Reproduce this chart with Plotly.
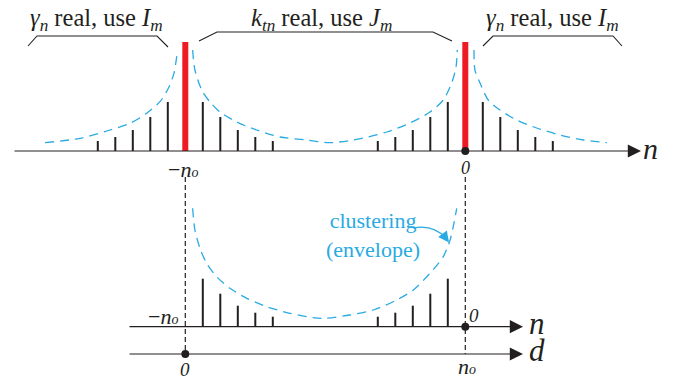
import plotly.graph_objects as go

# ---------------- data (n units; heights in px-like units) ----------------
N0 = 16
stem_n_top = [-21, -20, -19, -18, -17, -15, -14, -13, -12, -11,
              -5, -4, -3, -2, -1, 1, 2, 3, 4, 5]
stem_h_top = [10, 14, 21, 34, 49, 49, 34, 21, 14, 10,
              10, 14, 21, 34, 49, 49, 34, 21, 14, 10]
peak_n = [-16, 0]
peak_h = [109, 109]

stem_n_bot = [-15, -14, -13, -12, -11, -5, -4, -3, -2, -1]
stem_h_bot = [48, 33, 21, 14, 10, 10, 14, 21, 33, 48]

env_a_n = [-24.02, -22.02, -20.30, -19.16, -18.21, -17.45, -16.97, -16.65, -16.49, -16.43]
env_a_h = [8.3, 12.7, 21, 27.7, 37.7, 49.3, 62.7, 77.7, 94.3, 101]
env_b_n = [-15.58, -15.45, -15.06, -14.59, -14.02, -13.06, -11.92, -10.59, -9.06, -7.8,
           -6.39, -4.49, -3.16, -2.02, -1.26, -0.78, -0.53, -0.46]
env_b_h = [101, 81, 61, 49, 39, 29, 21, 14, 11, 8.3,
           11, 19, 28, 39, 51, 68, 84, 101]
env_c_n = [0.50, 0.55, 0.84, 1.31, 1.98, 2.94, 4.08, 5.41, 6.75, 8.09]
env_c_h = [101, 81, 68, 51, 41, 31, 23, 16, 11, 8.3]

env_bot_n = [-15.58, -15.45, -15.16, -14.78, -14.21, -13.45, -12.49, -11.35, -10.02, -8.69,
             -8.0, -6.59, -5.26, -3.92, -2.97, -2.02, -1.26, -0.87, -0.69, -0.49]
env_bot_h = [118.4, 96.7, 78.4, 63.4, 50, 38.4, 28.4, 20, 13.4, 9,
             8.4, 11.7, 16.7, 26.7, 36.7, 53.4, 70, 86.7, 100, 118.4]

top_labels = ["<i>γ<sub>n</sub></i> real, use <i>I<sub>m</sub></i>",
              "<i>k<sub>tn</sub></i> real, use <i>J<sub>m</sub></i>",
              "<i>γ<sub>n</sub></i> real, use <i>I<sub>m</sub></i>"]

# ---------------- layout constants ----------------
BASE_TOP = 0.0
BASE_BOT = -175.7
BASE_D = -203.0
BLACK = "#231F20"
BLUE = "#29ABE2"
RED = "#ED1C24"
FONT = "Liberation Serif, Times New Roman, serif"


def stems(ns, hs, base):
    xs, ys = [], []
    for n, h in zip(ns, hs):
        xs += [n, n, None]
        ys += [base, base + h, None]
    return xs, ys


fig = go.Figure()

# stems
for ns, hs, base in [(stem_n_top, stem_h_top, BASE_TOP), (stem_n_bot, stem_h_bot, BASE_BOT)]:
    xs, ys = stems(ns, hs, base)
    fig.add_trace(go.Scatter(x=xs, y=ys, mode="lines",
                             line=dict(color=BLACK, width=2), hoverinfo="skip"))

# red peaks
xs, ys = stems(peak_n, peak_h, BASE_TOP)
fig.add_trace(go.Scatter(x=xs, y=ys, mode="lines",
                         line=dict(color=RED, width=6), hoverinfo="skip"))

# envelopes
for en, eh, base in [(env_a_n, env_a_h, BASE_TOP), (env_b_n, env_b_h, BASE_TOP),
                     (env_c_n, env_c_h, BASE_TOP), (env_bot_n, env_bot_h, BASE_BOT)]:
    fig.add_trace(go.Scatter(x=en, y=[base + h for h in eh], mode="lines",
                             line=dict(color=BLUE, width=1.3, dash="9px,6px", shape="spline",
                                       smoothing=0.8),
                             hoverinfo="skip"))

# dashed verticals
for xv in [-N0, 0]:
    fig.add_trace(go.Scatter(x=[xv, xv], y=[-26, BASE_D], mode="lines",
                             line=dict(color=BLACK, width=1.2, dash="5px,3px"),
                             hoverinfo="skip"))

# dots
fig.add_trace(go.Scatter(x=[0, 0, -N0], y=[BASE_TOP, BASE_BOT, BASE_D], mode="markers",
                         marker=dict(color=BLACK, size=8), hoverinfo="skip"))

# ---------------- decorations (pixel overlay axes) ----------------
shapes = []
brackets = [
    [(28, 46), (37, 36), (157, 36), (168, 47)],
    [(199, 41), (217, 32), (433, 32), (452, 41)],
    [(483, 46), (493, 36), (613, 36), (622, 46)],
]
for br in brackets:
    path = "M " + " L ".join(f"{x},{y}" for x, y in br)
    shapes.append(dict(type="path", path=path, xref="x2", yref="y2",
                       line=dict(color=BLACK, width=1.1)))
# curved pointer for "clustering"
shapes.append(dict(type="path", path="M 413,228 Q 433,224 446,238", xref="x2", yref="y2",
                   line=dict(color=BLUE, width=1.2)))

ann = []
for txt, cx in zip(top_labels, [96.5, 321.5, 552.5]):
    ann.append(dict(x=cx, y=19.5, xref="x2", yref="y2", text=txt, showarrow=False,
                    font=dict(family=FONT, size=24.5, color=BLACK)))

# axes with arrowheads
for x0, x1, yv in [(13, 641, 151), (128, 523, 326.7), (128, 523, 354)]:
    ann.append(dict(x=x1, y=yv, ax=x0, ay=yv, xref="x2", yref="y2", axref="x2", ayref="y2",
                    text="", showarrow=True, arrowhead=2, arrowsize=2.2, arrowwidth=1.2,
                    arrowcolor=BLACK, standoff=0, startstandoff=0))
# arrow tip for clustering pointer
ann.append(dict(x=449, y=242.5, ax=444.5, ay=236.5, xref="x2", yref="y2", axref="x2", ayref="y2",
                text="", showarrow=True, arrowhead=2, arrowsize=1.8, arrowwidth=1.2,
                arrowcolor=BLUE, standoff=0))

SMALL_O = "<span style='font-size:14px'><i>o</i></span>"
labels = [
    ("<i>n</i>", 650, 148, 30),
    ("<i>n</i>", 537, 323, 31),
    ("<i>d</i>", 537, 350, 31),
    ("−<i>n</i>" + SMALL_O, 183, 169, 22),
    ("<i>0</i>", 465, 168, 18),
    ("−<i>n</i>" + SMALL_O, 163, 316, 22),
    ("<i>0</i>", 474, 315, 19),
    ("<i>0</i>", 185, 369, 19),
    ("<i>n</i>" + SMALL_O, 467, 366, 22),
]
for txt, x, y, s in labels:
    ann.append(dict(x=x, y=y, xref="x2", yref="y2", text=txt, showarrow=False,
                    font=dict(family=FONT, size=s, color=BLACK)))

ann.append(dict(x=373, y=235, xref="x2", yref="y2", text="clustering<br>(envelope)",
                showarrow=False, align="center",
                font=dict(family=FONT, size=22, color=BLUE)))

fig.update_layout(
    width=679, height=379, margin=dict(l=0, r=0, t=0, b=0),
    paper_bgcolor="white", plot_bgcolor="white", showlegend=False,
    font=dict(family=FONT),
    xaxis=dict(range=[(0 - 465.3) / 17.5, (679 - 465.3) / 17.5], visible=False, fixedrange=True),
    yaxis=dict(range=[-228, 151], visible=False, fixedrange=True),
    xaxis2=dict(range=[0, 679], overlaying="x", visible=False, anchor="y2"),
    yaxis2=dict(range=[379, 0], overlaying="y", visible=False, anchor="x2"),
    shapes=shapes, annotations=ann,
)

fig.write_html("out.html")
